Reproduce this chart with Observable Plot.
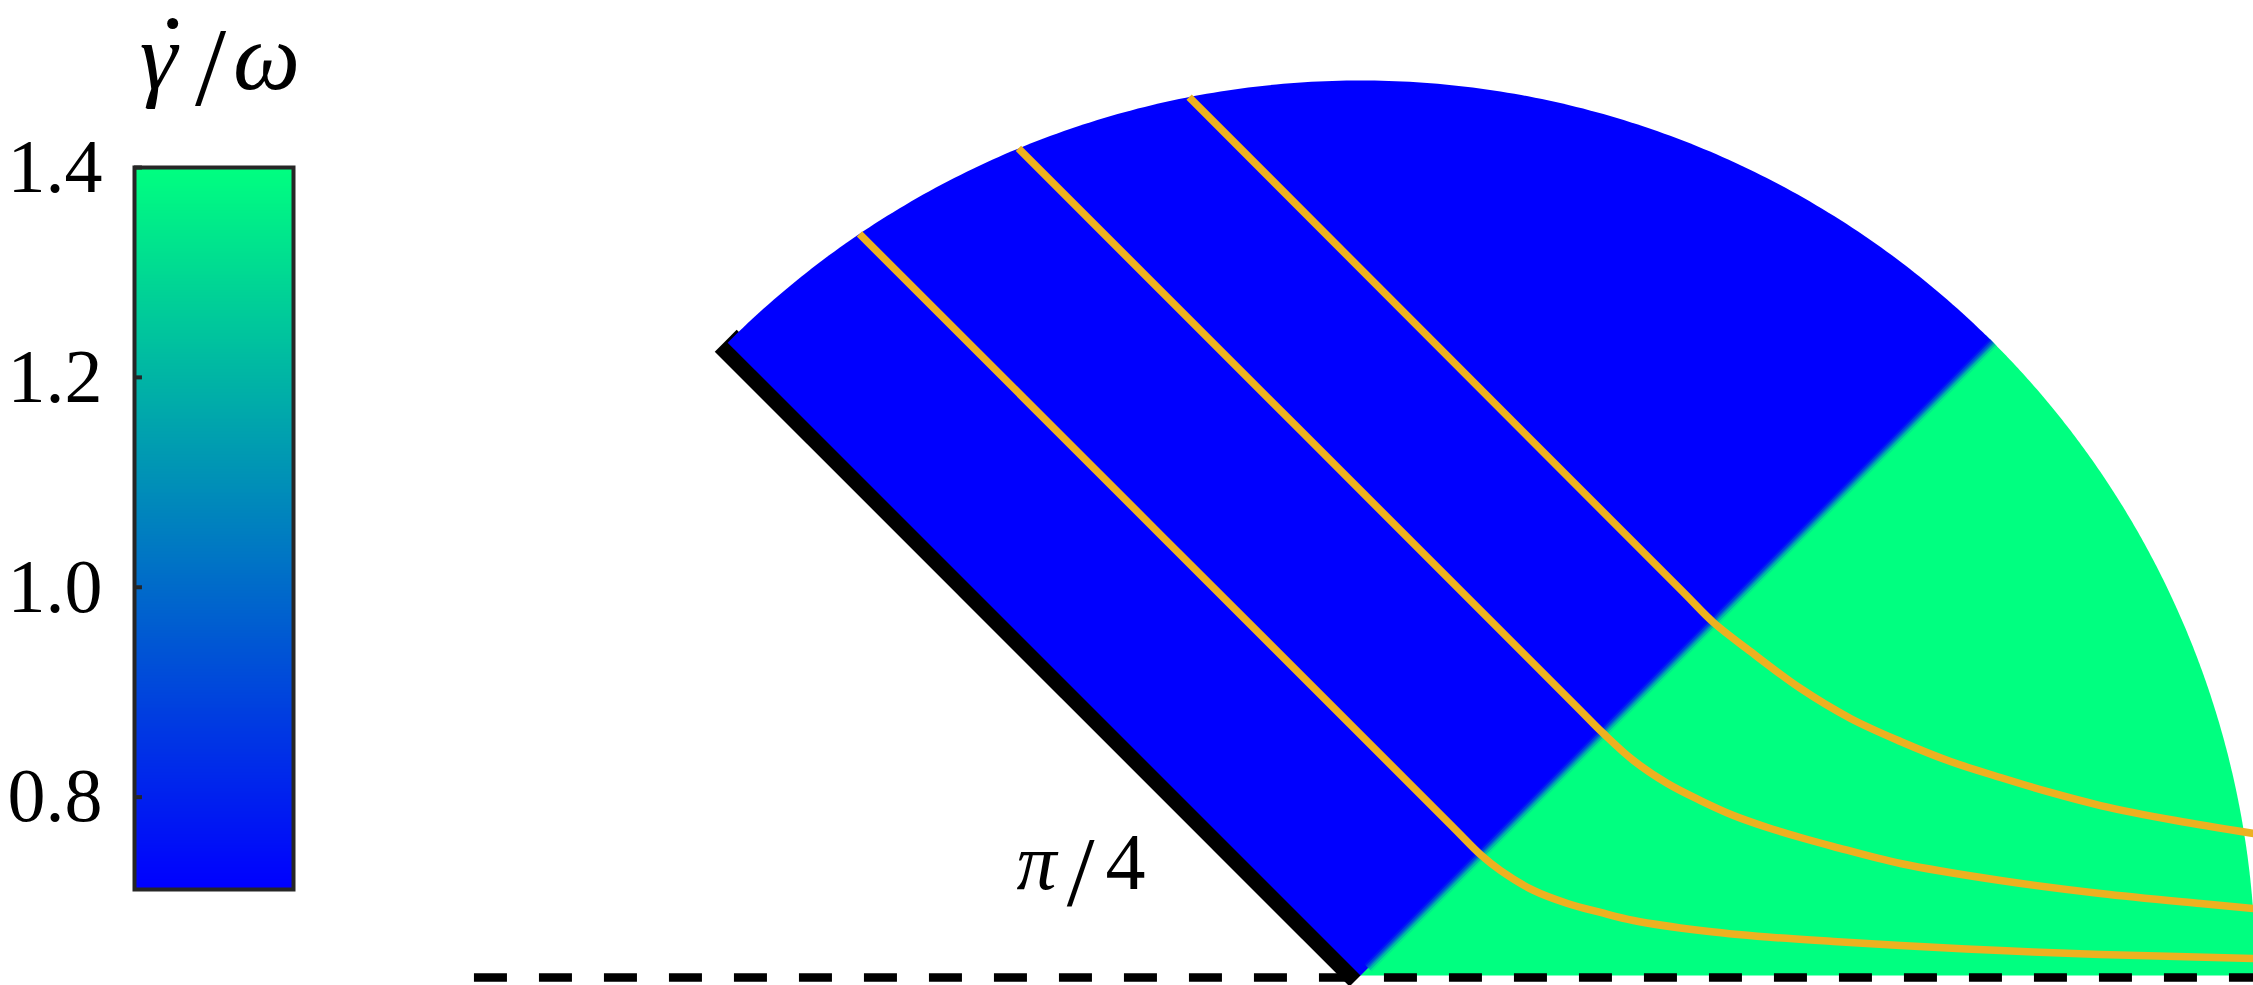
<!DOCTYPE html>
<html>
<head>
<meta charset="utf-8">
<script src="https://cdn.jsdelivr.net/npm/d3@7"></script>
<script src="https://cdn.jsdelivr.net/npm/@observablehq/plot@0.6"></script>
<style>
  html, body { margin: 0; padding: 0; background: #ffffff; }
  #wrap { position: relative; width: 2253px; height: 985px; overflow: hidden; }
  #wrap > svg { position: absolute; left: 0; top: 0; }
</style>
</head>
<body>
<div id="wrap"></div>
<script>
// ---------------- data ----------------
// colour bar (γ̇/ω)
const colorDomain = [0.712, 1.4];
const colorRange = ["#0000ff", "#00ff80"];
const colorTicks = [0.8, 1.0, 1.2, 1.4];
const colorTitleParts = ["γ", "/", "ω"];   // γ carries an over-dot (time derivative)

// wedge: sectors (angles in radians, radius 1) and their γ̇/ω value
const sectorNames = ["outer", "inner"];
const sectorStart = [0, Math.PI / 4];
const sectorEnd = [Math.PI / 4, 3 * Math.PI / 4];
const sectorValue = [1.4, 0.712];
const boundaryAngle = Math.PI / 4;
const wallAngle = 3 * Math.PI / 4;
const wallLength = 1.003;

// angle label
const angleLabelParts = ["π", "/", "4"];

// orange streamlines (x, y) in units of the wedge radius
const curve1X = [-0.5598, 0.100, 0.1346, 0.1564, 0.1933, 0.2313, 0.2682, 0.3050, 0.3799, 0.4547, 0.5285, 0.6034, 0.7151, 0.8268, 0.9978];
const curve1Y = [ 0.8286, 0.1692, 0.1346, 0.1173, 0.0950, 0.0804, 0.0704, 0.0615, 0.0503, 0.0430, 0.0380, 0.0335, 0.0279, 0.0235, 0.0190];
const curve2X = [-0.3822, 0.240, 0.2709, 0.3050, 0.3430, 0.3799, 0.4168, 0.4547, 0.4916, 0.5285, 0.6034, 0.7151, 0.8268, 0.9385, 0.9978];
const curve2Y = [ 0.9241, 0.3019, 0.2709, 0.2402, 0.2145, 0.1955, 0.1788, 0.1654, 0.1542, 0.1441, 0.1251, 0.1061, 0.0916, 0.0804, 0.0749];
const curve3X = [-0.1915, 0.360, 0.3944, 0.4358, 0.4916, 0.5475, 0.6034, 0.6592, 0.7151, 0.7709, 0.8268, 0.9106, 0.9978];
const curve3Y = [ 0.9815, 0.4288, 0.3944, 0.3620, 0.3207, 0.2872, 0.2615, 0.2391, 0.2212, 0.2045, 0.1899, 0.1732, 0.1587];

// dashed base line
const baseLineY = -0.0022;
const baseLineX = [-0.99, 1.0];

// ---------------- build tables ----------------
const colorScale = {type: "linear", domain: colorDomain, range: colorRange, interpolate: "rgb"};
const px = 1 / 895; // one screen pixel in data units

const sectorRows = [];
sectorNames.forEach((name, i) => {
  const a0 = sectorStart[i];
  const a1 = sectorEnd[i] + (i === 0 ? 0.012 : 0);
  sectorRows.push({x: 0, y: 0, v: sectorValue[i], s: name});
  const n = 200;
  for (let k = 0; k <= n; ++k) {
    const a = a0 + (a1 - a0) * k / n;
    sectorRows.push({x: Math.cos(a), y: Math.sin(a), v: sectorValue[i], s: name});
  }
});

// soft transition along the sector boundary (as in the smoothed image)
const ux = Math.cos(boundaryAngle), uy = Math.sin(boundaryAngle);
const nx = uy, ny = -ux; // normal pointing to the outer sector
const blendRows = [];
const blendSteps = 6, blendHalf = 5 * px;
for (let k = 0; k < blendSteps; ++k) {
  const d1 = -blendHalf + 2 * blendHalf * k / blendSteps;
  const d2 = -blendHalf + 2 * blendHalf * (k + 1) / blendSteps;
  const t = (k + 0.5) / blendSteps;
  const v = sectorValue[1] + (sectorValue[0] - sectorValue[1]) * t;
  const s0 = 0.012, s1 = 1.0;
  [[d1, s0], [d2, s0], [d2, s1], [d1, s1]].forEach(([d, s]) =>
    blendRows.push({x: nx * d + ux * s, y: ny * d + uy * s, v, b: k}));
}

const curves = [[curve1X, curve1Y], [curve2X, curve2Y], [curve3X, curve3Y]];
const curveRows = curves.flatMap(([xs, ys], i) => xs.map((x, j) => ({x, y: ys[j], c: i})));

const wallRows = [{x: 0, y: 0}, {x: Math.cos(wallAngle) * wallLength, y: Math.sin(wallAngle) * wallLength}];

const serif = "'Liberation Serif', 'DejaVu Serif', serif";

// ---------------- main plot ----------------
const main = Plot.plot({
  width: 2253,
  height: 985,
  margin: 0,
  x: {domain: [-1360 / 895, 893 / 895], axis: null},
  y: {domain: [-10 / 895, 975 / 895], axis: null},
  color: colorScale,
  style: {fontFamily: serif, background: "transparent", overflow: "visible"},
  marks: [
    Plot.line(wallRows, {x: "x", y: "y", stroke: "#000000", strokeWidth: 31, strokeLinecap: "butt"}),
    Plot.line(sectorRows, {x: "x", y: "y", z: "s", fill: "v", stroke: "none"}),
    Plot.line(blendRows, {x: "x", y: "y", z: "b", fill: "v", stroke: "none"}),
    Plot.line(curveRows, {x: "x", y: "y", z: "c", stroke: "#EDB120", strokeWidth: 7.5, curve: "catmull-rom", strokeLinecap: "butt"}),
    Plot.ruleY([baseLineY], {x1: baseLineX[0], x2: baseLineX[1], stroke: "#000000", strokeWidth: 8.5, strokeDasharray: "33,32"}),
    Plot.text([angleLabelParts[0]], {x: -0.362, y: 0.0972, lineAnchor: "bottom", textAnchor: "middle", fontSize: 80, fontStyle: "italic", fill: "#000"}),
    Plot.text([angleLabelParts[1]], {x: -0.3128, y: 0.0790, lineAnchor: "bottom", textAnchor: "middle", fontSize: 100, fill: "#000"}),
    Plot.text([angleLabelParts[2]], {x: -0.2626, y: 0.0972, lineAnchor: "bottom", textAnchor: "middle", fontSize: 80, fill: "#000"})
  ]
});

// ---------------- colour bar ----------------
const bar = Plot.plot({
  width: 330,
  height: 985,
  marginLeft: 134,
  marginRight: 37,
  marginTop: 167,
  marginBottom: 96,
  x: {domain: [0, 1], axis: null},
  y: {domain: colorDomain, axis: null},
  color: colorScale,
  style: {fontFamily: serif, background: "transparent", overflow: "visible"},
  marks: [
    Plot.raster({x1: 0, x2: 1, y1: colorDomain[0], y2: colorDomain[1], fill: (x, y) => y, width: 4, height: 500}),
    Plot.ruleY(colorTicks, {x1: 0, x2: 0.05, stroke: "#262626", strokeWidth: 4}),
    Plot.frame({stroke: "#262626", strokeWidth: 4}),
    Plot.axisY(colorTicks, {tickSize: 0, tickPadding: 32, fontSize: 76, tickFormat: d3.format(".1f"), label: null}),
    Plot.text([colorTitleParts[0]], {x: 0.15, frameAnchor: "top", dy: -79, lineAnchor: "bottom", textAnchor: "middle", fontSize: 95, fontStyle: "italic", fill: "#000"}),
    Plot.dot([colorTitleParts[0]], {x: 0.24, frameAnchor: "top", dy: -144, r: 5.5, fill: "#000", stroke: "none"}),
    Plot.text([colorTitleParts[1]], {x: 0.478, frameAnchor: "top", dy: -63, lineAnchor: "bottom", textAnchor: "middle", fontSize: 112, fill: "#000"}),
    Plot.text([colorTitleParts[2]], {x: 0.83, frameAnchor: "top", dy: -79, lineAnchor: "bottom", textAnchor: "middle", fontSize: 95, fontStyle: "italic", fill: "#000"})
  ]
});

const wrap = document.getElementById("wrap");
wrap.appendChild(main);
wrap.appendChild(bar);
</script>
</body>
</html>
